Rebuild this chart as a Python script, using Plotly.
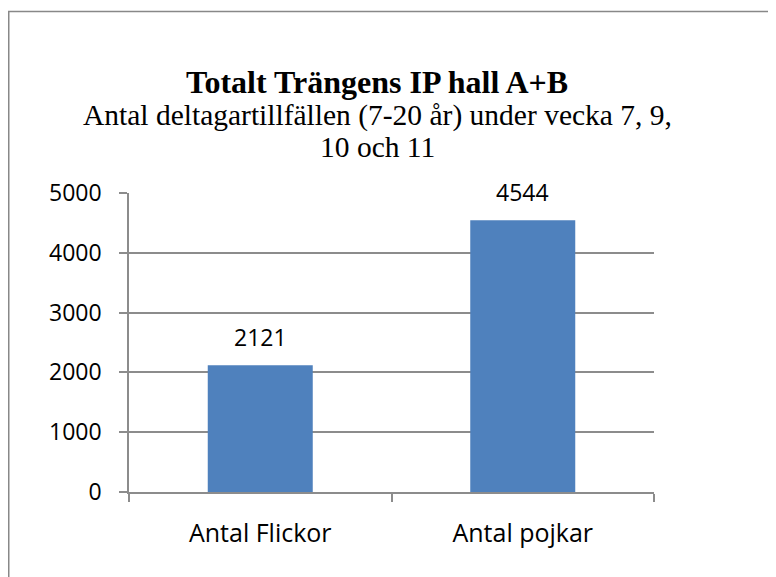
import plotly.graph_objects as go

categories = ["Antal Flickor", "Antal pojkar"]
values = [2121, 4544]
y_ticks = [0, 1000, 2000, 3000, 4000, 5000]
title_text = "Totalt Trängens IP hall A+B"
subtitle_lines = ["Antal deltagartillfällen (7-20 år) under vecka 7, 9,", "10 och 11"]

W, H = 776, 577
OFF = 8  # page body margin in the browser
ML, MT = 129 - OFF, 193 - OFF
plot_w, plot_h = 525, 299
MR = W - ML - plot_w
MB = H - MT - plot_h

def py(pix):
    return (MT + plot_h - (pix - OFF)) / plot_h

def px(pix):
    return ((pix - OFF) - ML) / plot_w

sans = "Open Sans"
serif = "Liberation Serif"
grid = "#8c8c8c"

fig = go.Figure()
fig.add_trace(go.Bar(
    x=categories, y=values,
    marker=dict(color="#4F81BD", line=dict(width=0)),
    width=0.4,
    hoverinfo="x+y",
))

annotations = []
for c, v in zip(categories, values):
    annotations.append(dict(
        x=c, y=v, xref="x", yref="y", text=str(v), showarrow=False,
        yanchor="bottom", yshift=10, font=dict(family=sans, size=23, color="#000000"),
    ))

annotations.append(dict(
    x=px(377), y=py(82), xref="paper", yref="paper", text="<b>" + title_text + "</b>",
    showarrow=False, xanchor="center", yanchor="middle",
    font=dict(family=serif, size=32, color="#000000"),
))
for i, line in enumerate(subtitle_lines):
    annotations.append(dict(
        x=px(377), y=py(116 + 31 * i), xref="paper", yref="paper", text=line,
        showarrow=False, xanchor="center", yanchor="middle",
        font=dict(family=serif, size=29.5, color="#000000"),
    ))

fig.update_layout(
    width=W, height=H,
    margin=dict(l=ML, r=MR, t=MT, b=MB, pad=0),
    paper_bgcolor="white", plot_bgcolor="white",
    showlegend=False,
    annotations=annotations,
    shapes=[dict(
        type="rect", xref="paper", yref="paper",
        x0=px(OFF + 0.75), x1=px(W + 40), y0=py(H + 40), y1=py(11.5),
        line=dict(color="#888888", width=1.5), fillcolor="rgba(0,0,0,0)", layer="below",
    )],
    xaxis=dict(
        type="category", tickson="boundaries", ticks="outside", ticklen=8,
        tickcolor=grid, tickwidth=1.5, showline=True, linecolor=grid, linewidth=1.5,
        showgrid=False, ticklabelstandoff=18,
        tickfont=dict(family=sans, size=25, color="#000000"),
        zeroline=False,
    ),
    yaxis=dict(
        range=[0, 5000], tickvals=y_ticks, ticks="outside", ticklen=8,
        tickcolor=grid, tickwidth=1.5, showline=True, linecolor=grid, linewidth=1.5,
        showgrid=True, gridcolor=grid, gridwidth=1.5, zeroline=False,
        ticklabelstandoff=13,
        tickfont=dict(family=sans, size=23, color="#000000"),
    ),
)

fig.write_html("out.html")
